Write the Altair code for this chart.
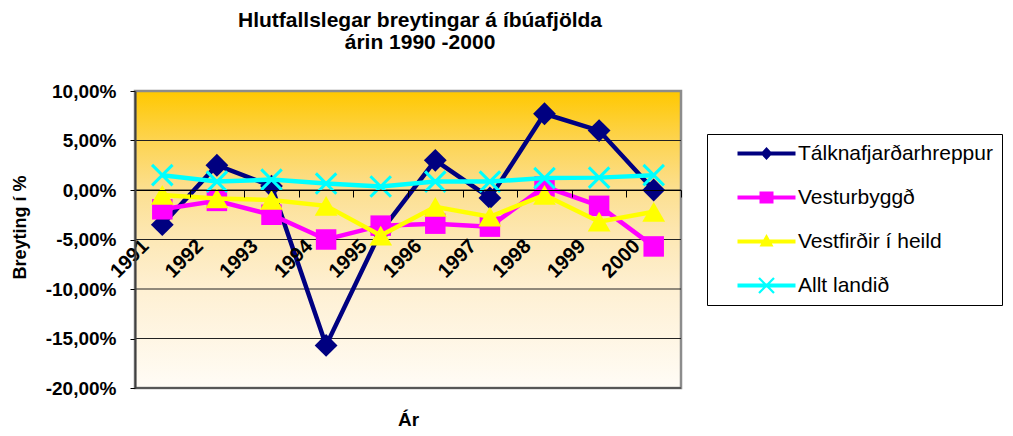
import altair as alt
import pandas as pd

# ---- data -------------------------------------------------------------
years = ["1991", "1992", "1993", "1994", "1995", "1996", "1997", "1998", "1999", "2000"]
series_names = ["Tálknafjarðarhreppur", "Vesturbyggð", "Vestfirðir í heild", "Allt landið"]
talknafjordur = [-3.5, 2.5, 0.4, -15.7, -4.2, 3.0, -0.8, 7.7, 6.0, 0.0]
vesturbyggd = [-1.95, -1.1, -2.5, -5.0, -3.6, -3.4, -3.7, 0.35, -1.6, -5.7]
vestfirdir = [-0.5, -0.85, -1.0, -1.6, -4.6, -1.7, -2.7, -0.5, -3.2, -2.2]
allt_landid = [1.5, 0.85, 1.05, 0.65, 0.35, 0.85, 0.85, 1.2, 1.25, 1.5]
y_ticks = [-20, -15, -10, -5, 0, 5, 10]
grid_values = [-20, -15, -10, -5, 0, 5]

colors = ["#000080", "#FF00FF", "#FFFF00", "#00FFFF"]
FONT = "Liberation Sans"

rows = []
for name, vals in zip(series_names, [talknafjordur, vesturbyggd, vestfirdir, allt_landid]):
    for yr, v in zip(years, vals):
        rows.append({"year": yr, "series": name, "value": v})
df = pd.DataFrame(rows)
grid_df = pd.DataFrame({"value": grid_values})

# ---- layout numbers (view = 997 x 420, fits the page exactly) -----------
W, H = 546, 297
PAD = {"left": 127, "top": 83, "right": 324, "bottom": 40}

x_enc = alt.X(
    "year:O",
    sort=years,
    bandPosition=0.5,
    scale=alt.Scale(type="band", domain=years, paddingInner=0, paddingOuter=0),
    axis=alt.Axis(
        title="Ár", titleFontSize=19, titleFontWeight="bold", titleColor="black",
        titleY=235, titleBaseline="alphabetic",
        labelAngle=315, labelAlign="right", labelBaseline="alphabetic",
        labelFontSize=20, labelFontWeight="bold", labelColor="black",
        labelPadding=50, labelOffset=-13, labelOverlap=False, labelBound=False, labelFlush=False,
        tickBand="extent", tickSize=7, tickColor="#000000", tickWidth=1,
        domainColor="#000000", domainWidth=1.2,
        offset=-198, zindex=1, grid=False,
    ),
)

y_label_expr = "(datum.value < 0 ? '-' : '') + replace(format(abs(datum.value), '.2f'), '.', ',') + '%'"
y_enc = alt.Y(
    "value:Q",
    scale=alt.Scale(domain=[-20, 10], nice=False, zero=False),
    axis=alt.Axis(
        values=y_ticks, labelExpr=y_label_expr, grid=False,
        title="Breyting í %", titleFontSize=18, titleFontWeight="bold", titleColor="black",
        titleAngle=270, titleX=-110, titleY=136, titleBaseline="alphabetic", titleAlign="center",
        labelFontSize=19, labelFontWeight="bold", labelColor="black", labelPadding=14,
        labelBaseline="middle",
        tickSize=5, tickColor="#000000", domainColor="#404040", domainWidth=2, zindex=1,
    ),
)

# ---- background (plot area gradient) ------------------------------------
gradient = alt.LinearGradient(
    gradient="linear",
    stops=[
        alt.GradientStop(color="#FFC800", offset=0),
        alt.GradientStop(color="#FDD452", offset=0.17),
        alt.GradientStop(color="#FCDF8F", offset=0.33),
        alt.GradientStop(color="#FDE8B6", offset=0.5),
        alt.GradientStop(color="#FEF0D3", offset=0.67),
        alt.GradientStop(color="#FFFCF6", offset=1),
    ],
    x1=0, x2=0, y1=0, y2=1,
)
bg = alt.Chart(alt.Data(values=[{}])).mark_rect(
    fill=gradient, stroke="#8C8C8C", strokeWidth=2.5
).encode(x=alt.value(0), x2=alt.value("width"), y=alt.value(0), y2=alt.value("height"))

grid = alt.Chart(grid_df).mark_rule(color="#222222", strokeWidth=1).encode(y=y_enc)

# ---- series ---------------------------------------------------------------
marker_shapes = ["diamond", "square", "triangle-up", "M-1,-1L1,1M1,-1L-1,1"]
marker_sizes = [520, 420, 520, 420]
base = alt.Chart(df)
series_layers = []
for i, (name, col) in enumerate(zip(series_names, colors)):
    sub = base.transform_filter(alt.datum.series == name)
    series_layers.append(
        sub.mark_line(color=col, strokeWidth=4.5).encode(x=x_enc, y=y_enc)
    )
    if i < 3:
        pts = sub.mark_point(shape=marker_shapes[i], filled=True, fill=col, color=col,
                             size=marker_sizes[i], opacity=1, strokeWidth=0)
    else:
        pts = sub.mark_point(shape=marker_shapes[i], filled=False, stroke=col, color=col,
                             size=marker_sizes[i], opacity=1, strokeWidth=3)
    series_layers.append(pts.encode(x=x_enc, y=y_enc))

# ---- legend (line + marker symbols) ---------------------------------------
line_path = "M-2.9,-0.2H2.9V0.2H-2.9Z"
e, p = 0.75, 0.08
x_path = (f"M0,{-2*p}L{e-p},{-e-p}L{e+p},{-e+p}L{2*p},0L{e+p},{e-p}L{e-p},{e+p}"
          f"L0,{2*p}L{-e+p},{e+p}L{-e-p},{e-p}L{-2*p},0L{-e-p},{-e+p}L{-e+p},{-e-p}Z")
legend_paths = [
    line_path + "M0,-0.65L0.6,0L0,0.65L-0.6,0Z",
    line_path + "M-0.7,-0.6H0.7V0.6H-0.7Z",
    line_path + "M0,-0.75L0.7,0.5L-0.7,0.5Z",
    line_path + x_path,
]
legend_cfg = alt.Legend(
    title=None, orient="none", legendX=572, legendY=43, direction="vertical",
    labelFontSize=21, labelFont=FONT, labelColor="black", labelLimit=500,
    symbolSize=400, symbolStrokeWidth=0, symbolOpacity=1,
    symbolOffset=40, labelOffset=21,
    padding=9, rowPadding=22,
    strokeColor="black", fillColor="white", cornerRadius=0,
)
legend_layer = base.transform_filter("false").mark_point(filled=True, opacity=1).encode(
    x=x_enc, y=y_enc,
    color=alt.Color("series:N", scale=alt.Scale(domain=series_names, range=colors), legend=legend_cfg),
    shape=alt.Shape("series:N", scale=alt.Scale(domain=series_names, range=legend_paths), legend=legend_cfg),
)

chart = alt.layer(bg, grid, *series_layers, legend_layer).properties(
    width=W, height=H,
    autosize=alt.AutoSizeParams(type="none"),
    padding=PAD,
    background="white",
    title=alt.TitleParams(
        text=["Hlutfallslegar breytingar á íbúafjölda", "árin 1990 -2000"],
        fontSize=21, fontWeight="bold", font=FONT, color="black",
        anchor="middle", lineHeight=22, dx=12, offset=29,
    ),
).configure_view(stroke=None).configure(font=FONT)

chart.save("out.html", embed_options={"renderer": "svg", "actions": False})
